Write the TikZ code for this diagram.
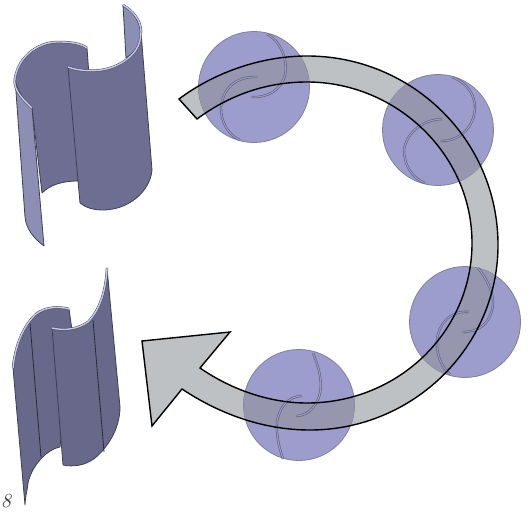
\documentclass[tikz,border=0pt]{standalone}
\usepackage{amsmath, amssymb}
\usepackage{tikz}
\usetikzlibrary{calc}
\definecolor{discBlue}{RGB}{157, 157, 205}
\definecolor{discOver}{RGB}{150, 150, 174}
\definecolor{bandGrey}{RGB}{189, 193, 195}
\definecolor{sheetDark}{RGB}{104, 104, 138}
\definecolor{sheetMid}{RGB}{110, 110, 146}
\definecolor{sheetPale}{RGB}{140, 142, 180}
\definecolor{rimPale}{RGB}{200, 200, 232}
\definecolor{swirlLine}{RGB}{95, 95, 125}

% band outline, shared by the fill, the clip and the stroke
\newcommand{\bandPath}{
  (179,99) .. controls (215,72) and (262,56) .. (307,56)
  .. controls (412,56) and (498,140) .. (498,245)
  .. controls (498,347) and (413,430) .. (310,430)
  .. controls (262,430) and (218,413) .. (182,389)
  -- (152,426) -- (142,341) -- (230,332) -- (200,368)
  .. controls (232,390) and (270,403) .. (307,403)
  .. controls (398,403) and (472,332) .. (472,243)
  .. controls (472,154) and (396,82) .. (307,82)
  .. controls (265,82) and (228,96) .. (197,119)
  -- cycle}

\begin{document}
\begin{tikzpicture}[
  x=0.5pt, y=-0.5pt,
  disc/.style={fill=discBlue, draw=swirlLine!80, line width=0.4pt},
  swirl/.style={draw=swirlLine, double=discBlue!90!gray, double distance=0.55pt, line width=0.3pt},
  sheet/.style={fill=sheetDark, draw=sheetDark!60!black, line width=0.4pt, line join=round},
  strip/.style={fill=sheetPale, draw=sheetDark!60!black, line width=0.4pt, line join=round},
  rim/.style={draw=sheetDark!70!black, double=rimPale, double distance=0.7pt, line width=0.25pt},
  crease/.style={draw=sheetDark!40!black, line width=0.4pt}
]
  \useasboundingbox (0,0) rectangle (528,512);

  % Upper blade pair
  \path[sheet, fill=sheetMid] (32,108) .. controls (20,97) and (13,88) .. (15,78)
    .. controls (19,55) and (40,41) .. (60,42) .. controls (72,42) and (82,44) .. (87,48)
    -- (89,75) -- (78,181) .. controls (62,181) and (50,185) .. (42,193) -- cycle;
  \path[strip] (15,78) .. controls (15,85) and (22,100) .. (32,108) -- (44,246)
    .. controls (33,238) and (26,228) .. (25,217) -- cycle;
  \draw[rim] (32,108) .. controls (20,97) and (13,88) .. (15,78)
    .. controls (19,55) and (40,41) .. (60,42) .. controls (72,42) and (82,44) .. (87,48);
  \path[strip] (123,5) .. controls (135,12) and (141,24) .. (141,37)
    .. controls (140,45) and (135,52) .. (126,58) -- cycle;
  \path[sheet, fill=sheetMid] (68,67) .. controls (85,73) and (108,72) .. (123,62)
    .. controls (134,55) and (141,46) .. (141,32) -- (152,170)
    .. controls (150,192) and (128,210) .. (103,210) .. controls (94,210) and (86,208) .. (80,203) -- cycle;
  \draw[rim] (68,67) .. controls (85,73) and (108,72) .. (123,62)
    .. controls (134,55) and (141,46) .. (141,32) .. controls (141,20) and (133,11) .. (123,5);

  % Lower blade pair
  \path[sheet] (13,368) .. controls (15,345) and (24,325) .. (36,314)
    .. controls (45,307) and (58,306) .. (69,309) -- (72,330) -- (60,447)
    .. controls (45,450) and (31,468) .. (28,483) .. controls (27,492) and (25,498) .. (25,505) -- cycle;
  \path[sheet] (52,328) .. controls (65,331) and (78,329) .. (88,322)
    .. controls (100,310) and (106,290) .. (107,268) -- (120,407)
    .. controls (120,430) and (106,449) .. (95,458) .. controls (85,466) and (72,467) .. (63,465) -- cycle;
  \draw[crease] (30,323) -- (41,457);
  \draw[crease] (93,320) -- (104,452);
  \draw[rim] (13,368) .. controls (15,345) and (24,325) .. (36,314)
    .. controls (45,307) and (58,306) .. (69,309);
  \draw[rim] (52,328) .. controls (65,331) and (78,329) .. (88,322)
    .. controls (100,310) and (106,290) .. (107,268);
  \node[font=\itshape, text=black!75, inner sep=0pt] (mark) at (6,501) {8};

  % Band and discs
  \fill[bandGrey] \bandPath;
  \foreach \cx/\cy in {254/87, 438/130, 465/322, 299/405}
    \path[disc] (\cx,\cy) circle (55.5);
  \begin{scope}
    \clip \bandPath;
    \foreach \cx/\cy in {254/87, 438/130, 465/322, 299/405}
      \fill[discOver] (\cx,\cy) circle (55.5);
  \end{scope}

  % Swirls inside the discs
  \draw[swirl] (267,34) .. controls (282,42) and (288,62) .. (285,75) .. controls (281,90) and (268,98) .. (251,97);
  \draw[swirl] (257,77) .. controls (235,76) and (222,90) .. (221,108) .. controls (221,122) and (228,135) .. (240,140);
  \draw[swirl] (452,77) .. controls (470,84) and (478,100) .. (474,115) .. controls (470,132) and (455,142) .. (440,141);
  \draw[swirl] (442,119) .. controls (420,120) and (406,135) .. (404,150) .. controls (404,165) and (412,178) .. (425,183);
  \draw[swirl] (478,268) .. controls (488,280) and (494,295) .. (493,305) .. controls (490,325) and (478,332) .. (462,332);
  \draw[swirl] (469,312) .. controls (450,310) and (438,325) .. (437,340) .. controls (436,355) and (442,368) .. (450,374);
  \draw[swirl] (313,353) .. controls (320,370) and (323,385) .. (319,397) .. controls (314,410) and (305,416) .. (296,416);
  \draw[swirl] (302,396) .. controls (288,396) and (279,408) .. (277,422) .. controls (276,437) and (280,450) .. (283,459);

  % Band outline on top
  \draw[black, line width=0.7pt, line join=miter] \bandPath;
\end{tikzpicture}
\end{document}
